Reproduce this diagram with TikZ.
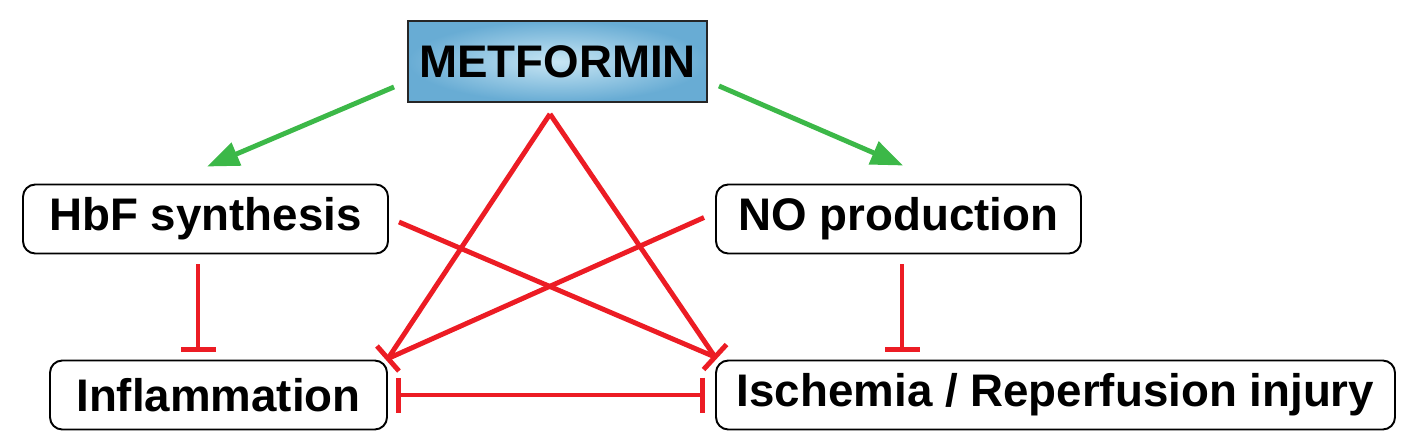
\documentclass[tikz,border=0pt]{standalone}
\usepackage{fontspec}
\setmainfont{Liberation Sans}
\usepackage{tikz}
\usetikzlibrary{arrows.meta, positioning, calc, shadings}
\definecolor{myred}{RGB}{236,28,36}
\definecolor{mygreen}{RGB}{60,184,72}
\definecolor{metlight}{RGB}{200,230,244}
\definecolor{metdark}{RGB}{104,172,212}
\tikzset{
  block/.style={rectangle, draw=black, fill=white, rounded corners=7pt,
    line width=1.1pt, minimum height=1.38cm,
    font=\bfseries\fontsize{26}{30}\selectfont},
  drugblock/.style={rectangle, draw=black!85, inner color=metlight,
    outer color=metdark, line width=1.1pt, minimum width=5.98cm,
    minimum height=1.62cm, font=\bfseries\fontsize{26}{30}\selectfont},
  actarrow/.style={-{Triangle[length=0.64cm, width=0.48cm]}, line width=2.8pt,
    color=mygreen},
  inhline/.style={line width=2.8pt, color=myred},
  inhib/.style={-{Bar[width=0.7cm, line width=2.8pt]}, inhline},
  inhibboth/.style={{Bar[width=0.7cm, line width=2.8pt]}-{Bar[width=0.7cm, line width=2.8pt]}, inhline}
}
\begin{document}
\begin{tikzpicture}
  \useasboundingbox (0,0) rectangle (28.34,-8.86);

  \node[drugblock] (metf) at (11.15,-1.23) {METFORMIN};
  \node[block, minimum width=7.3cm] (hbf) at (4.11,-4.38) {HbF synthesis};
  \node[block, minimum width=7.3cm] (nop) at (17.97,-4.38) {NO production};
  \node[block, minimum width=6.74cm] (infl) at (4.37,-7.9) {Inflammation};
  \node[block, minimum width=13.58cm] (isch) at (21.11,-7.9) {Ischemia / Reperfusion injury};
  \coordinate (apex) at ($(metf.south)+(-0.15,-0.22)$);
  \coordinate (inflend) at ($(infl.north east)+(0,0.02)$);
  \coordinate (ischend) at ($(isch.north west)+(0,0.05)$);

  % Activation
  \draw[actarrow] ($(metf.south west)+(-0.26,0.32)$) -- ($(hbf.north)+(0.03,0.34)$);
  \draw[actarrow] ($(metf.south east)+(0.22,0.34)$) -- ($(nop.north)+(0.09,0.36)$);

  % Inhibition
  \draw[inhline] (apex) -- (inflend);
  \draw[inhline] (apex) -- (ischend);
  \draw[inhline] ($(hbf.east)+(0.2,-0.06)$) -- (ischend);
  \draw[inhline] ($(nop.west)+(-0.22,0.03)$) -- (inflend);
  \draw[inhline] ($(inflend)+(-0.22,0.25)$) -- ($(inflend)+(0.22,-0.25)$);
  \draw[inhline] ($(ischend)+(-0.23,-0.25)$) -- ($(ischend)+(0.23,0.25)$);
  \draw[inhib] ($(hbf.south)+(-0.15,-0.2)$) -- ($(hbf.south |- infl.north)+(-0.15,0.16)$);
  \draw[inhib] ($(nop.south)+(0.07,-0.2)$) -- ($(nop.south |- isch.north)+(0.07,0.16)$);
  \draw[inhibboth] ($(infl.east)+(0.16,0)$) -- ($(isch.west)+(-0.2,0)$);
\end{tikzpicture}
\end{document}
